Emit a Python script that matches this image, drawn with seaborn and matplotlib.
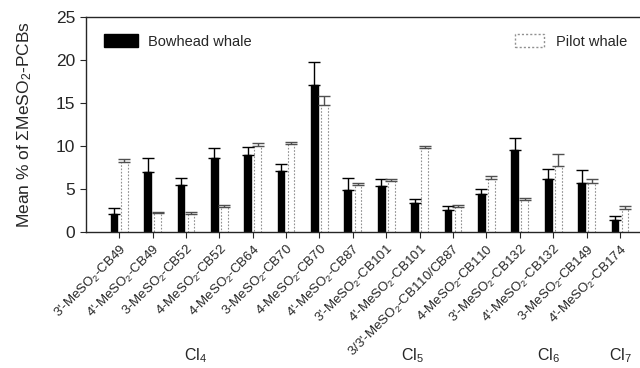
import numpy as np
import pandas as pd
import matplotlib
matplotlib.use("Agg")
import matplotlib.pyplot as plt
from matplotlib.patches import Patch
import seaborn as sns

# Congener labels (mathtext for the subscript 2)
congeners = [
    "3'-MeSO$_2$-CB49", "4'-MeSO$_2$-CB49", "3-MeSO$_2$-CB52", "4-MeSO$_2$-CB52",
    "4-MeSO$_2$-CB64", "3-MeSO$_2$-CB70", "4-MeSO$_2$-CB70", "4'-MeSO$_2$-CB87",
    "3'-MeSO$_2$-CB101", "4'-MeSO$_2$-CB101", "3/3'-MeSO$_2$-CB110/CB87",
    "4-MeSO$_2$-CB110", "3'-MeSO$_2$-CB132", "4'-MeSO$_2$-CB132",
    "3-MeSO$_2$-CB149", "4'-MeSO$_2$-CB174",
]

# Mean % and upper error
bowhead = [2.1, 7.0, 5.4, 8.6, 8.9, 7.1, 17.1, 4.9, 5.3, 3.4, 2.5, 4.4, 9.5, 6.2, 5.7, 1.4]
bowhead_err = [0.7, 1.6, 0.9, 1.1, 1.0, 0.8, 2.7, 1.4, 0.9, 0.4, 0.5, 0.6, 1.4, 1.1, 1.5, 0.4]
pilot = [8.1, 2.2, 2.1, 2.9, 10.0, 10.2, 14.7, 5.4, 5.9, 9.7, 2.9, 6.1, 3.7, 7.7, 5.7, 2.6]
pilot_err = [0.4, 0.1, 0.2, 0.2, 0.3, 0.2, 1.1, 0.3, 0.3, 0.3, 0.2, 0.4, 0.2, 1.4, 0.4, 0.4]

# Chlorination groups: label and x position (figure fraction)
groups = ["Cl$_4$", "Cl$_5$", "Cl$_6$", "Cl$_7$"]
group_x = [0.305, 0.645, 0.857, 0.97]

species = ["Bowhead whale", "Pilot whale"]

df = pd.DataFrame({
    "congener": congeners * 2,
    "species": [species[0]] * len(congeners) + [species[1]] * len(congeners),
    "value": bowhead + pilot,
    "err": bowhead_err + pilot_err,
})

sns.set_style("ticks")
plt.rcParams["font.family"] = ["Liberation Sans", "DejaVu Sans"]
plt.rcParams["mathtext.fontset"] = "custom"
plt.rcParams["mathtext.rm"] = "Liberation Sans"
plt.rcParams["mathtext.it"] = "Liberation Sans"

fig = plt.figure(figsize=(6.4, 3.68), dpi=100)
ax = fig.add_axes([0.134, 0.370, 0.866, 0.584])

sns.barplot(data=df, x="congener", y="value", hue="species",
            palette=["black", "white"], width=0.6, gap=0.33,
            errorbar=None, legend=False, ax=ax)

# Style bars and add one-sided error bars at the drawn bar positions
n = len(congeners)
errs = bowhead_err + pilot_err
for i, p in enumerate(ax.patches[:2 * n]):
    if i >= n:
        p.set_facecolor("white")
        p.set_edgecolor("#909090")
        p.set_linestyle((0, (1.5, 1.5)))
        p.set_linewidth(0.8)
        ecol = "#505050"
    else:
        p.set_edgecolor("black")
        ecol = "black"
    xc = p.get_x() + p.get_width() / 2
    h = p.get_height()
    ax.errorbar(xc, h, yerr=[[0], [errs[i]]], fmt="none", ecolor=ecol,
                elinewidth=1.0, capsize=4, capthick=1.0)

ax.set_xlim(-1.0, 15.6)
ax.set_ylim(0, 25)
ax.set_yticks([0, 5, 10, 15, 20, 25])
ax.tick_params(axis="y", labelsize=12.5, length=4, direction="out")
ax.tick_params(axis="x", length=4, direction="out")
ax.set_xticks(range(n))
ax.set_xticklabels(congeners, rotation=45, ha="right", rotation_mode="anchor",
                   fontsize=9.5)
ax.set_xlabel("")
ax.set_ylabel("Mean % of $\\Sigma$MeSO$_2$-PCBs", fontsize=12.5, labelpad=16)

for s in ["top", "left", "bottom"]:
    ax.spines[s].set_visible(True)
    ax.spines[s].set_linewidth(1.0)
ax.spines["right"].set_visible(False)

# Two separate legends, as in the original
leg1 = ax.legend(handles=[Patch(facecolor="black", edgecolor="black")],
                 labels=[species[0]], loc="upper left", frameon=False,
                 fontsize=10.5, handlelength=2.3, handleheight=1.0,
                 handletextpad=0.7, bbox_to_anchor=(0.01, 0.98))
ax.add_artist(leg1)
ax.legend(handles=[Patch(facecolor="white", edgecolor="#909090", linestyle=(0, (1.5, 1.5)))],
          labels=[species[1]], loc="upper right", frameon=False,
          fontsize=10.5, handlelength=2.0, handleheight=1.0,
          handletextpad=0.8, bbox_to_anchor=(1.0, 0.98))

for g, gx in zip(groups, group_x):
    fig.text(gx, 0.008, g, ha="center", va="bottom", fontsize=11.5)

fig.savefig("out.png", dpi=100)
